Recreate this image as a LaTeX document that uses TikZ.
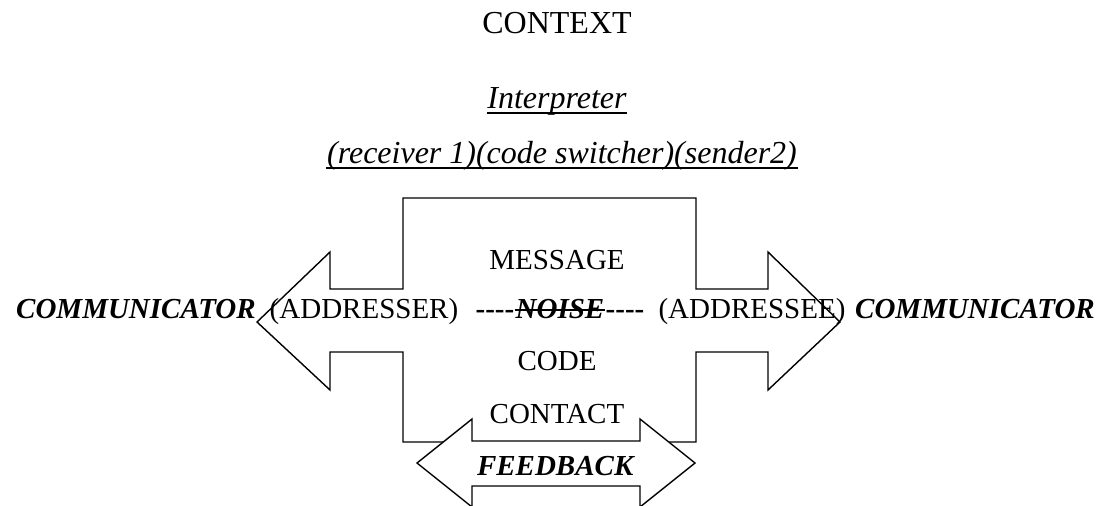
\documentclass[tikz,border=0pt]{standalone}
\usepackage{fontspec}
\setmainfont{Liberation Serif}
\newcommand{\dashrun}{\mbox{-}\mbox{-}\mbox{-}\mbox{-}}
\tikzset{rule/.style={line width=1.6pt,line cap=butt}}

\begin{document}
\begin{tikzpicture}[x=1pt,y=-1pt,line width=1.4pt]
    \useasboundingbox (0,0) rectangle (1109,506);

    % channel frame with the two arrows
    \draw (403,198) -- (696,198) -- (696,289) -- (768,289) -- (768,252)
      -- (840,322) -- (768,390) -- (768,352) -- (696,352) -- (696,442)
      -- (403,442) -- (403,352) -- (330,352) -- (330,390) -- (257,322)
      -- (330,252) -- (330,289) -- (403,289) -- cycle;
    % feedback arrow
    \draw[fill=white] (417,463) -- (472,419) -- (472,441) -- (640,441)
      -- (640,419) -- (695,463) -- (640,507) -- (640,486) -- (472,486)
      -- (472,507) -- cycle;

    \begin{scope}[every node/.style={anchor=base,inner sep=0pt,font=\fontsize{32}{36}\selectfont}]
      \node (context) at (557,34) {CONTEXT};
      \node (interp) at (557,108) {\textit{Interpreter}};
      \node (roles) at (562,163) {\textit{(receiver 1)(code switcher)(sender2)}};
    \end{scope}
    \draw[rule] ([yshift=-5pt]interp.base west) -- ([yshift=-5pt]interp.base east);
    \draw[rule] ([yshift=-5pt]roles.base west) -- ([yshift=-5pt]roles.base east);

    \begin{scope}[every node/.style={anchor=base,inner sep=0pt,font=\fontsize{29}{33}\selectfont}]
      \node (message) at (557,269) {MESSAGE};
      \node (addresser) at (364,318) {(ADDRESSER)};
      \node (noise) at (560,318) {\textbf{\textit{NOISE}}};
      \node[anchor=base east] (dashL) at (noise.base west) {\textbf{\dashrun}};
      \node[anchor=base west] (dashR) at (noise.base east) {\textbf{\dashrun}};
      \node (addressee) at (752,318) {(ADDRESSEE)};
      \node (code) at (557,370) {CODE};
      \node (contact) at (557,423) {CONTACT};
      \node (feedback) at (556,475) {\textbf{\textit{FEEDBACK}}};
      \node (commL) at (136,318) {\textbf{\textit{COMMUNICATOR}}};
      \node (commR) at (975,318) {\textbf{\textit{COMMUNICATOR}}};
    \end{scope}
    \draw[rule] ([yshift=8pt]noise.base west) -- ([yshift=8pt]noise.base east);
\end{tikzpicture}
\end{document}
